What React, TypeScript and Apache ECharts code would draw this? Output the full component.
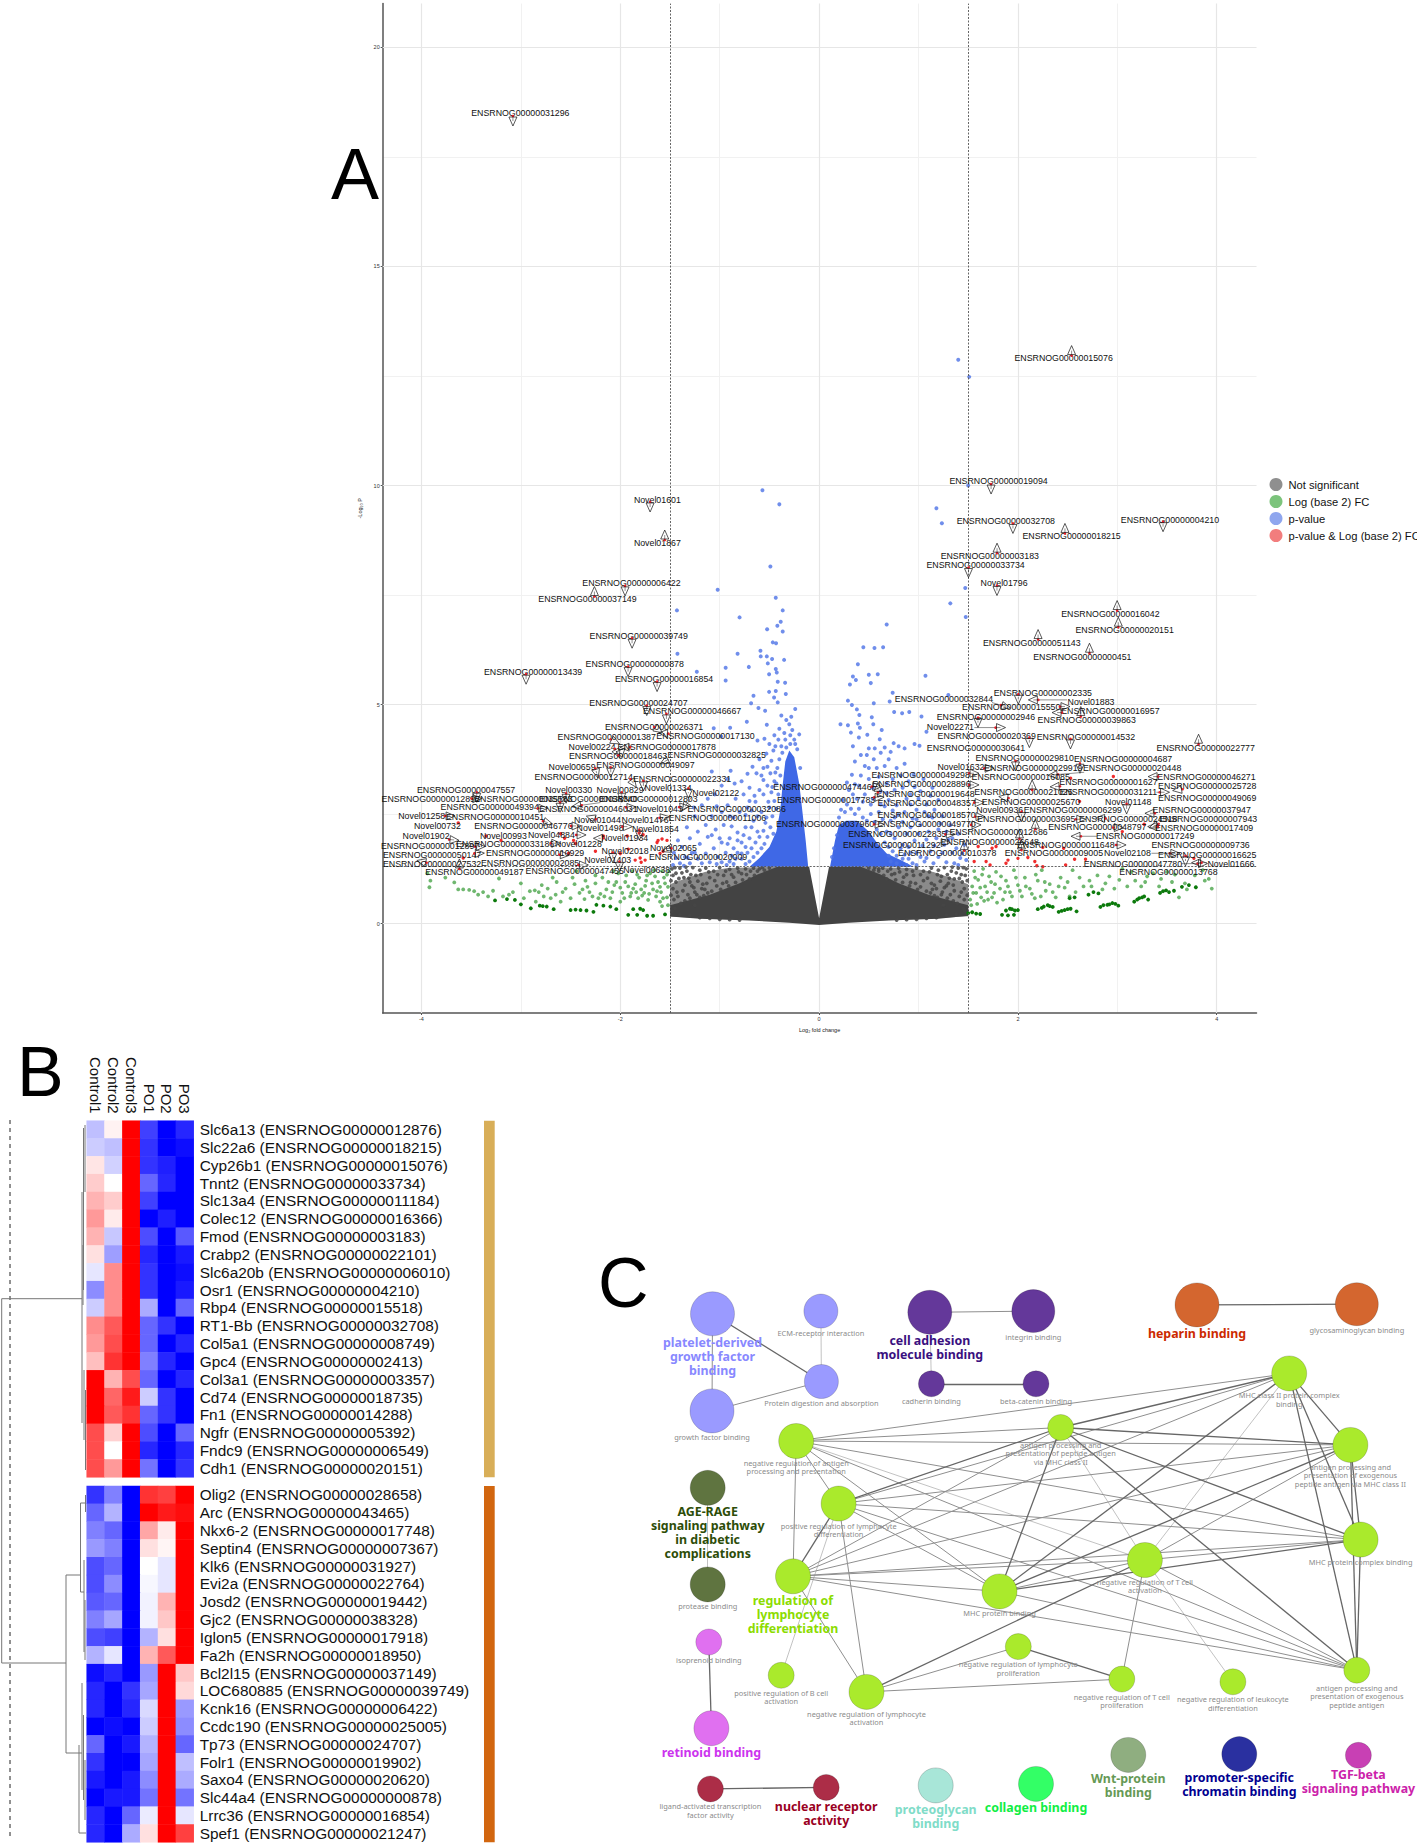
import React, { useEffect, useRef } from "react";
import * as echarts from "echarts";

const FONT = '"Liberation Sans", Arial, sans-serif';
const NET_FONT = '"Noto Sans", sans-serif';

/* ---------- Panel A : volcano ---------- */
const legendNames = ["Not significant", "Log (base 2) FC", "p-value", "p-value & Log (base 2) FC"];
const legendColours = ["#8f8f8f", "#7cc47c", "#8fa6ee", "#f27d7d"];
const xMajor = [-4, -2, 0, 2, 4];
const xMinor = [-3, -1, 1, 3];
const yMajor = [0, 5, 10, 15, 20];
const yMinor = [2.5, 7.5, 12.5, 17.5];
const fcCut = [-1.5, 1.5];
const pCut = [1.3];

const greyOuter = [[-1.5,.16],[-1.5,.9],[-1.36,1.02],[-1.15,1.18],[-.92,1.27],[-.4,1.3],[-.4,.06],[-1.1,.11]];
const greyOuterR = [[1.5,.17],[1.5,.9],[1.36,1.02],[1.15,1.18],[.92,1.27],[.4,1.3],[.4,.06],[1.1,.11]];
const greyInner = [[-.1,1.3],[-.42,1.3],[-.62,1.12],[-.8,.92],[-1.1,.66],[-1.5,.42],[-1.5,.16],[-1.2,.11],[-.7,.07],[-.3,.02],[0,-.03],[.3,.02],[.7,.07],[1.2,.11],[1.5,.18],[1.5,.42],[1.1,.66],[.8,.92],[.62,1.12],[.42,1.3],[.1,1.3],[0,.12]];
const blueLeft = [[-.11,1.3],[-.135,1.9],[-.17,2.6],[-.2,3.2],[-.25,3.8],[-.3,3.95],[-.34,3.7],[-.37,3.1],[-.39,2.6],[-.43,2.1],[-.5,1.75],[-.6,1.5],[-.7,1.3]];
const blueRight = [[.11,1.3],[.16,1.9],[.2,2.25],[.27,2.35],[.38,2.35],[.5,2.1],[.58,1.85],[.68,1.6],[.82,1.45],[.95,1.3]];

const greyPoints = [[-1.48,1.25],[-1.44,1.15],[-1.4,1.27],[-1.36,1.05],[-1.33,1.2],[-1.3,.95],[-1.27,1.28],[-1.24,1.1],[-1.2,1.22],[-1.17,.9],[-1.14,1.27],[-1.1,1.05],[-1.06,1.2],[-1.03,.86],[-1,1.28],[-.96,1.1],[-.93,.95],[-.9,1.24],[-.86,1.06],[-.82,1.27],[-.78,1.14],[-.74,1.25],[-.7,1.02],[-.66,1.27],[-.62,1.2],[-.57,1.28],[-1.47,.8],[-1.42,.62],[-1.37,.75],[-1.3,.58],[-1.25,.72],[-1.2,.6],[-1.15,.78],[-1.48,.28],[-1.4,.2],[-1.3,.18],[-1.2,.14],[-1.1,.12],[-1,.1],[-.9,.09],[-.8,.08],[1.48,1.25],[1.43,1.12],[1.4,1.27],[1.36,1.02],[1.33,1.2],[1.3,.92],[1.26,1.28],[1.23,1.08],[1.2,1.22],[1.16,.88],[1.13,1.27],[1.09,1.04],[1.05,1.2],[1.02,.84],[.98,1.27],[.95,1.1],[.92,.94],[.88,1.24],[.85,1.06],[.8,1.27],[.76,1.14],[.72,1.25],[.68,1.02],[.64,1.27],[.6,1.2],[.56,1.28],[1.46,.8],[1.41,.62],[1.36,.75],[1.29,.58],[1.24,.72],[1.19,.6],[1.14,.78],[1.46,.3],[1.38,.22],[1.28,.2],[1.18,.14],[1.08,.12],[.98,.1],[.88,.09],[.78,.08],
[-1.46,.55],[-1.44,.95],[-1.41,1.03],[-1.39,.46],[-1.35,.88],[-1.32,.66],[-1.29,1.12],[-1.26,.82],[-1.22,.97],[-1.19,1.12],[-1.16,.64],[-1.13,.92],[-1.11,1.18],[-1.08,.74],[-1.05,.98],[-1.02,1.12],[-.99,.78],[-.97,.92],[-.94,1.2],[-.91,.86],[-.88,1.12],[-.84,.94],[-.81,1.18],[-.77,1],[-.73,1.12],[-.69,1.2],[-.65,1.1],[-.6,1.25],[-.55,1.22],[-.5,1.27],[-1.49,.98],[-1.47,1.1],[-1.45,1.28],[-1.43,.72],[-1.38,1.16],[-1.34,1.29],[-1.31,1.04],[-1.28,.86],[-1.23,.66],[-1.18,.8],[-1.12,.7],[-1.49,.65],[-1.45,.35],[-1.35,.52],[-1.25,.42],
[1.46,.55],[1.44,.95],[1.41,1.03],[1.39,.46],[1.35,.88],[1.32,.66],[1.29,1.12],[1.26,.82],[1.22,.97],[1.19,1.12],[1.16,.64],[1.13,.92],[1.11,1.18],[1.08,.74],[1.05,.98],[1.02,1.12],[.99,.78],[.97,.92],[.94,1.2],[.91,.86],[.88,1.12],[.84,.94],[.81,1.18],[.77,1],[.73,1.12],[.69,1.2],[.65,1.1],[.6,1.25],[.55,1.22],[.5,1.27],[1.49,.98],[1.47,1.1],[1.45,1.28],[1.43,.72],[1.38,1.16],[1.34,1.29],[1.31,1.04],[1.28,.86],[1.23,.66],[1.18,.8],[1.12,.7],[1.49,.65],[1.45,.35],[1.35,.52],[1.25,.42]];

const greenPale = [[-3.94,1.15],[-3.91,.98],[-3.92,.83],[-3.76,1.05],[-3.67,.94],[-3.63,.78],[-3.58,.78],[-3.52,.77],[-3.47,.74],[-3.43,.66],[-3.38,.72],[-3.33,.62],[-3.28,.75],[-3.22,1.03],[-3.18,.62],[-3.12,.66],[-3.08,.72],[-3,.92],[-2.97,.58],[-2.91,.74],[-2.86,.76],[-2.82,.72],[-2.77,.62],[-2.73,.8],[-2.7,.58],[-2.65,.66],[-2.6,.5],[-2.55,.8],[-2.5,.58],[-2.46,.9],[-2.41,.7],[-2.36,.56],[-2.33,.84],[-2.28,.62],[-2.25,.92],[-2.2,.68],[-2.18,1.05],[-2.14,.78],[-2.1,.58],[-2.06,.88],[-2.02,1.15],[-1.98,.7],[-1.95,.95],[-1.9,.62],[-1.87,.8],[-1.84,.72],[-1.81,1.05],[-1.78,.64],[-1.75,.86],[-1.72,.54],[-1.7,1.15],[-1.67,.78],[-1.64,.62],[-1.62,.95],[-1.59,.72],[-1.56,1.05],[-1.53,.6],[-1.52,.84],[-1.51,1.2],[-2.85,.5],[-2.68,1.05],[-2.44,1.2],[-2.35,.98],[-2.12,.95],[-2,.5],[-1.88,1.2],[-1.76,.7],[-1.6,.5],[1.52,.55],[1.54,.85],[1.56,1.2],[1.58,.7],[1.6,1],[1.63,.6],[1.65,1.25],[1.67,.85],[1.7,.55],[1.73,.95],[1.76,.7],[1.78,1.18],[1.82,.8],[1.85,.55],[1.88,.98],[1.92,.72],[1.96,1.22],[2,.88],[2.04,.62],[2.07,1.05],[2.12,.8],[2.17,.58],[2.2,.98],[2.24,1.22],[2.28,.75],[2.32,.9],[2.38,.6],[2.43,1.05],[2.47,.82],[2.52,.62],[2.55,1.22],[2.58,.72],[2.66,.85],[2.72,.98],[2.8,1.1],[2.85,.78],[2.92,1.08],[2.97,.8],[3.05,1.25],[3.1,.85],[3.18,.98],[3.24,.85],[3.3,1.08],[3.36,1.15],[3.42,.85],[3.5,1.18],[3.58,1.12],[3.68,.92],[3.78,1.1],[3.86,1.22],[3.92,1.02],[3.95,.8],[3.88,.98],[3.7,.78],[3.62,.6],
[-2.38,.78],[-2.31,.72],[-2.22,.58],[-2.16,.62],[-2.08,.72],[-2.04,.95],[-2,.82],[-1.96,.58],[-1.92,.85],[-1.89,.7],[-1.85,.9],[-1.82,.58],[-1.79,.78],[-1.74,.98],[-1.71,.68],[-1.68,.92],[-1.65,1.08],[-1.63,.74],[-1.6,.84],[-1.57,.58],[-1.55,.92],[-1.53,1.12],[-1.58,1.2],[-1.66,1.22],[-1.73,1.1],[-1.83,1.12],[-1.94,1.1],[-2.07,1.2],[-2.25,1.1],[-2.48,1.05],[-2.58,.72],[-2.64,.95],[-2.79,.88],[-1.52,.42],[-1.58,.4],[1.53,.42],[1.55,.7],[1.57,1.05],[1.59,.45],[1.62,.82],[1.64,1.12],[1.66,.52],[1.69,.72],[1.71,1.08],[1.74,.6],[1.77,.9],[1.79,.48],[1.83,1.08],[1.87,.72],[1.9,.85],[1.94,.62],[1.98,1.05],[2.02,.75],[2.08,.85],[2.14,.68],[2.18,1.12],[2.23,.62],[2.27,.95],[2.35,.72],[2.41,.85],[2.5,.95],[2.62,1.05],[2.74,.85],[2.88,.92],[3.02,1],[3.14,1.18],[3.28,.95],[3.44,1.02],[3.55,.95]];
const greenDark = [[-3.26,.53],[-3.14,.56],[-3.06,.54],[-3,.44],[-2.9,.35],[-2.81,.41],[-2.78,.4],[-2.74,.39],[-2.67,.33],[-2.5,.31],[-2.45,.32],[-2.4,.31],[-2.34,.3],[-2.27,.27],[-2.24,.43],[-2.17,.41],[-2.1,.39],[-2.04,.33],[-1.92,.2],[-1.87,.33],[-1.83,.2],[-1.8,.34],[-1.77,.31],[-1.73,.18],[-1.67,.18],[-1.55,.21],[1.5,.24],[1.54,.26],[1.58,.23],[1.62,.22],[1.84,.2],[1.9,.19],[1.96,.2],[1.88,.3],[1.94,.33],[2,.31],[2.2,.33],[2.26,.39],[2.3,.42],[2.35,.38],[2.41,.27],[2.47,.31],[2.53,.34],[2.59,.28],[2.52,.58],[2.57,.6],[2.71,.66],[2.76,.72],[2.81,.69],[2.83,.38],[2.9,.43],[2.95,.47],[3.01,.41],[3.17,.5],[3.22,.58],[3.27,.62],[3.31,.55],[3.43,.7],[3.49,.76],[3.52,.72],[3.57,.75],[3.65,.84],[3.72,.88],[3.79,.83],[1.92,.34],[1.97,.3],[2.24,.36],[2.32,.4],[2.44,.29],[2.5,.33],[2.86,.42],[2.92,.44],[2.98,.45],[3.2,.55],[3.25,.6],[3.46,.74]];

const bluePoints = [[1.4,12.87],[1.51,12.48],[-.57,9.89],[-.4,9.57],[1.18,9.48],[1.235,9.14],[1.5,10],[1.47,7.66],[1.32,7.31],[1.475,7],[.68,6.83],[.445,6.31],[.557,6.29],[.644,6.31],[.39,5.92],[1.07,5.66],[.34,5.64],[.37,5.56],[.5,5.68],[.59,5.69],[.31,5.46],[.52,5.49],[.74,5.27],[1.3,5.22],[.71,5.07],[.29,5.09],[.33,4.99],[.55,5.03],[.38,4.89],[.755,4.83],[.835,4.8],[.907,4.83],[1.03,4.73],[.405,4.76],[.53,4.71],[.215,4.55],[.29,4.53],[.39,4.57],[.41,4.47],[.545,4.55],[.63,4.42],[.32,4.36],[.485,4.31],[.61,4.21],[.75,4.12],[.96,4.1],[1.01,4.06],[1.08,4.38],[-.49,8.15],[-1.02,7.62],[-.436,7.44],[-.366,7.15],[-1.43,7.15],[-.8,6.99],[-.386,6.89],[-.42,6.8],[-.523,6.72],[-.366,6.67],[-.466,6.42],[-.433,6.4],[-1.425,6.16],[-.82,6.16],[-.59,6.23],[-.587,6.1],[-.526,6.1],[-.473,6.04],[-.516,5.94],[-.352,6.02],[-.707,5.86],[-.94,5.84],[-1.23,5.75],[-.436,5.81],[-.503,5.69],[-.426,5.73],[-.94,5.55],[-.342,5.5],[-.416,5.52],[-.436,5.31],[-.503,5.29],[-.66,5.2],[-.335,5.24],[-.453,5.16],[-.684,5.03],[-.416,5.05],[-.61,4.92],[-.543,4.86],[-.24,4.9],[-.727,4.61],[-.895,4.47],[-1.06,4.46],[-.986,4.27],[-.526,4.54],[-.38,4.75],[-.33,4.65],[-.28,4.72],[-.4,4.45],[-.35,4.35],[-.3,4.55],[-.45,4.3],[-.5,4.1],[-.55,4.22],[-.62,4.18],[-.41,4.2],[-.29,4.3],[-.46,3.95],[-.53,3.88],[-.6,3.75],[-.67,3.58],[-.72,3.42],[-.63,3.43],[-.56,3.55],[-.49,3.43],[-.89,3.49],[-1.08,3.47],[-.98,3.15],[-1.05,2.95],[-.92,3.3],[-.85,3.2],[-.78,3.25],[-.7,3.1],[-.76,2.95],[-.84,2.85],[-.92,2.7],[-.98,2.55],[-1.08,2.45],[-1.14,2.25],[-1.22,2.1],[-1.3,1.95],[-1.38,1.75],[-1.44,1.5],[-1.47,1.34],[-1.42,1.9],[-1.33,2.2],[-1.25,2.45],[-1.18,2.7],[-1.26,2.65],[-1.12,2.85],[-1.03,2.68],[-.9,2.45],[-.8,2.55],[-.72,2.65],[-.64,2.78],[-.56,2.95],[-.58,2.55],[-.66,2.35],[-.74,2.2],[-.82,2.08],[-.9,1.95],[-.98,1.85],[-1.06,1.72],[-1.14,1.6],[-1.22,1.48],[-1.3,1.38],[-1.1,1.4],[-1.02,1.52],[-.94,1.62],[-.86,1.72],[-.78,1.85],[-.7,1.95],[-.62,2.1],[-.54,2.3],[-.5,2.65],[-.48,3],[-.45,3.25],[-1.2,1.82],[-1.12,1.98],[-1.04,2.15],[-.96,2.25],[-.88,2.22],[-1.35,1.52],[-1.4,1.38],[-1.28,1.62],[-.98,1.4],[-.9,1.42],[-.84,1.48],[.33,3.4],[.36,3.7],[.42,3.85],[.5,4],[.46,3.6],[.55,3.75],[.62,3.9],[.7,3.75],[.78,3.55],[.86,3.65],[.95,3.4],[1.05,3.3],[1.14,3.1],[.3,3.05],[.4,3.15],[.5,3.3],[.6,3.35],[.68,3.2],[.76,3.05],[.84,3.1],[.92,2.95],[1,2.85],[1.08,2.72],[1.16,2.6],[1.24,2.45],[1.32,2.25],[1.4,2.05],[1.46,1.8],[1.48,1.45],[1.42,1.5],[1.34,1.62],[1.26,1.8],[1.18,1.95],[1.1,2.1],[1.02,2.25],[.94,2.4],[.86,2.55],[.78,2.7],[.7,2.82],[.62,2.72],[.54,2.85],[.46,2.95],[.72,2.35],[.8,2.2],[.88,2.05],[.96,1.9],[1.04,1.78],[1.12,1.65],[1.2,1.52],[1.28,1.4],[1.36,1.38],[1.15,1.38],[1.02,1.52],[.92,1.62],[.84,1.8],[.76,1.95],[.68,2.1],[1.1,2.45],[.98,2.6],[.88,2.85],[1.2,2.15],[1.3,1.92],[1.38,1.72],
[-.19,3.55],[-.22,3.98],[-.25,4.2],[-.29,4.1],[-.33,4.02],[-.37,3.9],[-.4,3.75],[-.42,3.55],[-.39,3.38],[-.43,3.2],[-.41,2.95],[-.45,2.8],[-.43,2.62],[-.47,2.45],[-.49,2.2],[-.46,2.05],[-.52,1.98],[-.55,1.82],[-.58,1.72],[-.62,1.62],[-.66,1.52],[-.7,1.42],[-.74,1.36],[-.78,1.48],[-.72,1.62],[-.68,1.72],[-.64,1.85],[-.6,1.98],[-.56,2.12],[-.53,2.42],[-.51,2.78],[-.47,3.12],[-.44,3.45],[-.52,3.15],[-.56,3.28],[-.6,3.05],[-.65,2.92],[-.7,2.8],[-.62,2.45],[-.68,2.2],[-.76,2.02],[-.82,1.62],[-.88,1.55],[-.78,1.6],[-.74,1.75],[-.82,1.9],[-.86,1.36],[-.93,1.34],[-1.03,1.36],[-1.18,1.38],[-1.25,1.62],[-.92,1.82],[-1,1.95],[-1.08,2.02],[-.86,2.42],[-.74,2.48],[-.68,2.58],[-1.32,1.5],[-1.46,1.62],[-1.36,1.32],[-.24,4.1],[-.27,4.42],[-.2,4.32],[-.34,4.2],[-.38,4.05],[-.44,4.05],[-.48,3.72],[-.52,3.58],[-.58,3.38],
[.13,1.52],[.15,1.72],[.18,2.02],[.2,2.42],[.22,2.6],[.26,2.55],[.24,2.82],[.28,2.72],[.32,2.62],[.36,2.5],[.4,2.62],[.44,2.42],[.48,2.35],[.52,2.5],[.56,2.32],[.58,2.15],[.62,2.05],[.64,2.38],[.66,1.85],[.7,1.75],[.74,1.65],[.78,1.55],[.82,1.72],[.86,1.58],[.9,1.48],[.94,1.38],[.98,1.34],[1.06,1.42],[.72,2.05],[.76,2.42],[.8,2.48],[.84,2.32],[.6,2.55],[.52,2.72],[.44,2.78],[.38,2.85],[.34,2.95],[.36,3.18],[.28,3.22],[.42,3.38],[.54,3.1],[.62,3.02],[.68,2.98],[.5,3.55],[.58,3.55],[.66,3.6],[.74,3.3],[.82,3.38],[.9,3.25],[.96,3.12],[1.02,3.02],[1.12,2.92],[1.2,2.82],[.34,4.05],[.4,4.25],[.48,3.85],[.56,4],[.66,4.02],[.72,3.92],[.8,4.05],[.86,4],[.92,2.72],[.98,2.38],[1.06,2.55],[1.14,2.42],[1.22,2.28],[1.28,2.1],[1.34,1.95],[1.44,1.6],[1.4,1.34],[1.24,1.62],[1.16,1.78],[1.08,1.92],[1,2.05],[.92,2.2],[.74,2.58],[.66,2.68],[.9,1.75],[.98,1.62],[1.08,1.5],[.84,1.48],[.78,1.38],[.72,1.42],[.7,1.55],[.88,1.34]];
const redPoints = [[-1.62,1.9],[-1.58,1.93],[-1.53,1.9],[-1.63,1.85],[-1.81,2.07],[-1.77,2.03],[-1.92,1.7],[-1.93,2],[-2,1.6],[-1.85,1.45],[-1.8,1.5],[-1.79,1.4],[-1.75,1.45],[-1.6,1.6],[-1.57,1.65],[-2.17,2],[-2.25,1.65],[-2.47,1.9],[-2.45,1.83],[-2.6,2.05],[-2.56,1.95],[-2.52,1.6],[-3.35,2],[-3.2,1.9],[-3.63,2.3],[-3.58,1.5],[1.6,1.76],[1.74,1.72],[1.78,1.76],[1.56,1.42],[1.68,1.42],[1.72,1.34],[1.9,1.45],[1.88,1.38],[2,1.49],[2.1,1.51],[2.17,1.42],[2.19,1.32],[2.25,1.74],[2.25,1.3],[2.46,1.72],[2.48,1.34],[2.57,1.47],[2.68,1.47],[2.96,3.36],[2.62,2.79],[2.53,3.32],[3.05,2.1],[3.27,2.27],[3.77,1.49]];

/* Crop readings: [label, label x, label y, arrow x, arrow y] */
const labelsLeftCrop: any[] = [
["ENSRNOG00000006422",754,70,735,93],["ENSRNOG00000037149",622,118,643,95],["ENSRNOG00000039749",776,227,756,250],["ENSRNOG00000000878",764,313,744,335],["ENSRNOG00000013439",459,336,438,358],["ENSRNOG00000016854",852,358,831,380],["ENSRNOG00000024707",775,428,800,452],["ENSRNOG00000046667",936,454,859,477],["ENSRNOG00000026371",822,501,835,510],["ENSRNOG00000001387",680,532,705,545],["ENSRNOG00000017130",976,529,850,520],["Novel00224",636,561,712,580],["ENSRNOG00000017878",860,560,735,562],["ENSRNOG00000018463",714,587,725,575],["ENSRNOG00000032825",1010,586,853,605],["Novel00659",576,621,650,640],["ENSRNOG00000049097",796,615,692,637],["ENSRNOG00000012714",611,651,760,670],["ENSRNOG00000022331",906,657,790,678],["Novel00330",566,690,558,715],["Novel00829",720,690,725,712],["Novel01334",864,685,925,700],["Novel02122",1007,698,915,740],["ENSRNOG00000047557",258,690,290,712],["ENSRNOG00000012895",152,716,290,716],["ENSRNOG00000035183",430,716],["ENSRNOG00000038340",625,716,540,742],["ENSRNOG00000012803",805,716,590,738],["ENSRNOG00000049394",329,742,488,745],["ENSRNOG00000046031",625,748,753,742],["Novel01043",838,748,912,740],["ENSRNOG00000032086",1070,747],["Novel01258",125,767,210,768],["ENSRNOG00000010451",345,772,503,788],["Novel01044",652,779,633,773],["Novel01476",795,779,853,772],["ENSRNOG00000011006",1012,775],["Novel00732",172,798],["ENSRNOG00000046776",430,799,588,798],["Novel01498",660,805,742,800],["Novel01854",826,806,778,825],["Novel01902",138,827,222,840],["Novel00993",370,827],["Novel04884",514,825,603,825],["Novel01934",734,833,655,835],["ENSRNOG00000012897",150,857,300,860],["ENSRNOG00000033186",375,852,527,850],["Novel01228",595,853],["ENSRNOG00000050147",156,884,298,880],["ENSRNOG00000010929",465,880,553,885],["Novel02018",735,873,698,893],["Novel02065",880,863,860,870],["ENSRNOG00000020009",954,891],["ENSRNOG00000027532",156,912,125,905],["ENSRNOG00000002085",450,908,610,915],["Novel01403",683,900,718,920],["Novel00638",800,930],["ENSRNOG00000047455",584,934],["ENSRNOG00000049187",283,937,238,912],["ENSRNOG00000047446",1327,682,1490,680],["ENSRNOG00000017783",1338,720,1497,712],["ENSRNOG00000037960",1335,793,1497,793]];
const labelsRightCrop: any[] = [
["ENSRNOG00000033734",444,16,426,38],["Novel01796",516,70,498,92],["ENSRNOG00000016042",785,161,802,137],["ENSRNOG00000020151",821,211,805,187],["ENSRNOG00000051143",586,248,602,224],["ENSRNOG00000000451",714,290,732,265],["ENSRNOG00000002335",614,399,552,418],["ENSRNOG00000032844",364,416,520,440],["Novel01883",736,426,590,420],["ENSRNOG00000015550",534,441,670,440],["ENSRNOG00000016957",785,452,650,458],["ENSRNOG00000002946",470,470,450,488],["ENSRNOG00000039863",725,480,710,455],["Novel02271",380,502,507,503],["ENSRNOG00000020369",472,528,580,548],["ENSRNOG00000014532",723,530,684,552],["ENSRNOG00000022777",1026,563,1008,538],["ENSRNOG00000030641",445,565],["ENSRNOG00000029810",568,594,545,618],["ENSRNOG00000004687",817,598,708,625],["Novel01632",407,620,478,625],["ENSRNOG00000029919",590,625],["ENSRNOG00000020448",840,625,640,645],["ENSRNOG00000049298",305,645,440,640],["ENSRNOG00000016085",558,652],["ENSRNOG00000046271",1028,651,893,650],["ENSRNOG00000028896",307,672,440,675],["ENSRNOG00000001627",780,667,645,680],["ENSRNOG00000025728",1030,678,955,690],["ENSRNOG00000019648",317,702,197,682],["ENSRNOG00000021025",565,696,587,675],["ENSRNOG00000031211",780,696,922,697],["ENSRNOG00000049069",1030,715],["ENSRNOG00000048357",320,730,453,728],["ENSRNOG00000025670",584,725,515,712],["Novel01148",830,725,826,747],["Novel00936",505,751,560,770],["ENSRNOG00000006299",690,751],["ENSRNOG00000037947",1016,749,885,760],["ENSRNOG00000018570",320,765,455,770],["ENSRNOG00000003695",572,777,710,778],["ENSRNOG00000024518",830,778,760,775],["ENSRNOG00000007943",1032,778,895,798],["ENSRNOG00000049770",320,793,445,795],["ENSRNOG00000048797",752,802,805,803],["ENSRNOG00000017409",1022,805,892,800],["ENSRNOG00000012686",502,816,595,793],["ENSRNOG00000022835",246,822,380,823],["ENSRNOG00000017249",873,829,698,829],["ENSRNOG00000026648",480,846,555,822],["ENSRNOG00000011292",232,855,367,848],["ENSRNOG00000011648",672,855,812,855],["ENSRNOG00000009736",1013,855],["ENSRNOG00000010378",372,880,415,857],["ENSRNOG00000009005",642,880,560,855],["Novel02108",828,880,948,880],["ENSRNOG00000016625",1030,885,975,903],["ENSRNOG00000047780",842,911,1018,911],["Novel01666",1090,911,1003,908],["ENSRNOG00000013768",932,936]];
const labelsTopData: any[] = [
["ENSRNOG00000031296",-3.005,18.5,-3.08,18.32],["ENSRNOG00000015076",2.46,12.9,2.54,13.08],["ENSRNOG00000019094",1.805,10.1,1.73,9.92],["Novel01601",-1.627,9.67,-1.7,9.51],["Novel01867",-1.627,8.68,-1.553,8.87],["ENSRNOG00000032708",1.878,9.18,1.95,9.02],["ENSRNOG00000018215",2.54,8.84,2.473,9.02],["ENSRNOG00000004210",3.53,9.22,3.46,9.06],["ENSRNOG00000003183",1.717,8.39,1.79,8.57]];

const fromLeft = (r: any[]) => [r[0], (r[1]-1317)/298.2, (1091-r[2])/131.4, r[3]==null?null:(r[3]-1317)/298.2, r[4]==null?null:(1091-r[4])/131.4];
const fromRight = (r: any[]) => [r[0], (r[1]-48)/251.5, (1091-r[2])/131.4, r[3]==null?null:(r[3]-48)/251.5, r[4]==null?null:(1091-r[4])/131.4];
const labelRows = [...labelsLeftCrop.map(fromLeft), ...labelsRightCrop.map(fromRight), ...labelsTopData];

/* ---------- Panel B : heat map ---------- */
const samples = ["Control1","Control2","Control3","PO1","PO2","PO3"];
const genesUp = ["Slc6a13 (ENSRNOG00000012876)","Slc22a6 (ENSRNOG00000018215)","Cyp26b1 (ENSRNOG00000015076)","Tnnt2 (ENSRNOG00000033734)","Slc13a4 (ENSRNOG00000011184)","Colec12 (ENSRNOG00000016366)","Fmod (ENSRNOG00000003183)","Crabp2 (ENSRNOG00000022101)","Slc6a20b (ENSRNOG00000006010)","Osr1 (ENSRNOG00000004210)","Rbp4 (ENSRNOG00000015518)","RT1-Bb (ENSRNOG00000032708)","Col5a1 (ENSRNOG00000008749)","Gpc4 (ENSRNOG00000002413)","Col3a1 (ENSRNOG00000003357)","Cd74 (ENSRNOG00000018735)","Fn1 (ENSRNOG00000014288)","Ngfr (ENSRNOG00000005392)","Fndc9 (ENSRNOG00000006549)","Cdh1 (ENSRNOG00000020151)"];
const genesDown = ["Olig2 (ENSRNOG00000028658)","Arc (ENSRNOG00000043465)","Nkx6-2 (ENSRNOG00000017748)","Septin4 (ENSRNOG00000007367)","Klk6 (ENSRNOG00000031927)","Evi2a (ENSRNOG00000022764)","Josd2 (ENSRNOG00000019442)","Gjc2 (ENSRNOG00000038328)","Iglon5 (ENSRNOG00000017918)","Fa2h (ENSRNOG00000018950)","Bcl2l15 (ENSRNOG00000037149)","LOC680885 (ENSRNOG00000039749)","Kcnk16 (ENSRNOG00000006422)","Ccdc190 (ENSRNOG00000025005)","Tp73 (ENSRNOG00000024707)","Folr1 (ENSRNOG00000019902)","Saxo4 (ENSRNOG00000020620)","Slc44a4 (ENSRNOG00000000878)","Lrrc36 (ENSRNOG00000016854)","Spef1 (ENSRNOG00000021247)"];
const valuesUp = [[-.25,.05,1,-.75,-1,-.85],[-.2,-.25,1,-.8,-1,-.95],[.1,-.18,1,-.8,-.88,-1],[.2,0,1,-.6,-.85,-1],[.3,.2,1,-.75,-1,-1],[.4,.08,1,-1,-.88,-1],[.3,-.22,1,-.7,-1,-.65],[.12,-.38,1,-.85,-1,-.9],[-.1,.45,1,-.8,-1,-.95],[-.45,.45,1,-.8,-1,-.9],[-.2,.45,1,-.33,-1,-.6],[.45,.65,1,-.6,-.8,-1],[.4,.7,1,-.6,-1,-.85],[.25,.8,1,-.5,-.85,-1],[1,.3,.7,-.6,-1,-.85],[1,.6,.9,-.2,-.8,-1],[1,.65,.8,-.6,-.8,-1],[.7,.18,1,-.7,-1,-.6],[.7,0,1,-.85,-1,-.85],[.7,.4,1,-.55,-1,-.8]];
const valuesDown = [[-.8,-.5,-1,.8,.75,1],[-.6,-.3,-1,1,.9,.95],[-.5,-.6,-1,.35,.08,1],[-.4,-.5,-1,.12,.04,1],[-.7,-.6,-1,0,-.1,1],[-.7,-.45,-1,-.03,-.1,1],[-.65,-.6,-1,-.05,.3,1],[-.5,-.35,-1,-.05,.22,1],[-.7,-.75,-1,-.3,.12,1],[-.3,-.1,-1,.3,.65,1],[-.95,-.85,-1,-.4,1,.22],[-.85,-1,-.8,-.35,1,.15],[-.85,-1,-.85,-.15,1,-.4],[-1,-.95,-1,-.2,1,-.45],[-.6,-1,-.9,-.3,1,-.6],[-.8,-1,-1,-.35,1,-.25],[-.9,-1,-.9,-.45,1,-.33],[-1,-.9,-.9,-.55,1,-.55],[-.85,-1,-.6,-.08,1,-.1],[-.85,-1,-.33,.12,1,.75]];
const toCells = (m: number[][]) => m.flatMap((row, r) => row.map((v, c) => [c, r, v]));

/* ---------- Panel C : enrichment network ---------- */
const nodeNames = ["platelet-derived\ngrowth factor\nbinding","ECM-receptor interaction","Protein digestion and absorption","growth factor binding","cell adhesion\nmolecule binding","integrin binding","cadherin binding","beta-catenin binding","heparin binding","glycosaminoglycan binding","MHC class II protein complex\nbinding","antigen processing and\npresentation of peptide antigen\nvia MHC class II","negative regulation of antigen\nprocessing and presentation","antigen processing and\npresentation of exogenous\npeptide antigen via MHC class II","positive regulation of lymphocyte\ndifferentiation","MHC protein complex binding","negative regulation of T cell\nactivation","regulation of\nlymphocyte\ndifferentiation","MHC protein binding","negative regulation of lymphocyte\nproliferation","positive regulation of B cell\nactivation","negative regulation of lymphocyte\nactivation","negative regulation of T cell\nproliferation","negative regulation of leukocyte\ndifferentiation","antigen processing and\npresentation of exogenous\npeptide antigen","AGE-RAGE\nsignaling pathway\nin diabetic\ncomplications","protease binding","isoprenoid binding","retinoid binding","Wnt-protein\nbinding","promoter-specific\nchromatin binding","TGF-beta\nsignaling pathway","proteoglycan\nbinding","collagen binding","ligand-activated transcription\nfactor activity","nuclear receptor\nactivity"];
const nodeX = [132.5,240.9,241.4,132,349.8,453.3,351.4,456,617,776.8,709.2,480.7,216.2,770.4,258.6,780.6,564.9,213,419.5,438.3,201.2,286.5,541.8,652.9,776.8,127.7,127.7,128.8,131.4,548.3,659.3,778.4,355.7,456,130.4,246.2];
const nodeY = [73.8,71.1,141.5,170.9,72.3,71.1,143.8,143.8,64.9,64.2,133.4,187.5,201,204.9,263.6,299.6,320,336.3,351.4,406.6,435.3,451.9,439.1,441.8,430.2,247.8,344.4,402,488.2,514.9,514.1,515.3,545.4,543.9,548.9,547.4];
const nodeDiameter = [44,34,34,44,44,43,26,26,44,43,35,26,35,35,35,35,35,35,35,26,26,35,26,26,26,35,35,26,35,35,35,26,35,35,26,26];
const nodeFill = ["#9a9aff","#9a9aff","#9a9aff","#9a9aff","#64389a","#64389a","#64389a","#64389a","#d4662f","#d4662f","#aaea2c","#aaea2c","#aaea2c","#aaea2c","#aaea2c","#aaea2c","#aaea2c","#aaea2c","#aaea2c","#aaea2c","#aaea2c","#aaea2c","#aaea2c","#aaea2c","#aaea2c","#5f7440","#5f7440","#e070f0","#e070f0","#8fae80","#2a30a0","#c840b4","#a8e6d8","#33ff66","#ac2d47","#ac2d47"];
const nodeBigLabelColour: (string|null)[] = ["#8888ff",null,null,null,"#3a1080",null,null,null,"#cc2a00",null,null,null,null,null,null,null,null,"#8cdc00",null,null,null,null,null,null,null,"#2d4d08",null,null,"#cc33ee","#669955","#000090","#cc22aa","#80dcc8","#11ee44",null,"#9a0022"];
const edgesDark = [[0,2],[10,11],[10,24],[10,13],[10,15],[11,13],[11,15],[11,24],[14,11],[17,14],[18,10],[18,11],[18,15],[18,13],[21,16],[19,22],[13,15],[13,24],[15,24],[27,28],[34,35],[6,7],[8,9]];
const edgesMid = [[0,3],[2,3],[4,5],[12,10],[12,11],[12,13],[12,15],[12,24],[12,18],[12,17],[12,14],[14,10],[14,13],[14,15],[14,24],[14,18],[17,10],[17,11],[17,13],[17,15],[17,16],[17,18],[17,24],[16,15],[16,13],[16,24],[16,22],[21,22],[21,17],[21,14],[21,19],[18,16],[18,24]];
const edgesLight = [[1,2],[4,6],[16,10],[16,11],[16,23],[20,14],[25,26],[12,16]];

/* ---------- Decorations ---------- */
const dendroSegments = [[1.7,1298.7,1.7,1663],[1.7,1298.7,82,1298.7],[1.7,1663,66,1663],[82,1192,82,1423],[83.5,1128,83.5,1290],[85,1125,85,1192],[83,1245,83,1305],[84,1370,84,1440],[85.5,1390,85.5,1470],[66,1575,66,1753],[66,1575,80.5,1575],[80.5,1503,80.5,1592],[80.5,1503,86,1503],[80.5,1592,84,1592],[84,1560,84,1652],[85.5,1495,85.5,1512],[85,1600,85,1660],[66,1753,82,1753],[82,1683,82,1790],[79,1745,79,1833],[79,1833,86,1833],[83.5,1715,83.5,1800],[85,1760,85,1820]];

const polygonSeries = (pts: number[][], color: string, z: number) => ({
  type: "custom", xAxisIndex: 0, yAxisIndex: 0, silent: true, z, data: pts, encode: { x: 0, y: 1 },
  renderItem: (params: any, api: any) => params.dataIndex !== 0 ? null : ({
    type: "polygon", shape: { points: pts.map((p) => api.coord(p)) }, style: { fill: color },
  }),
});
const scatter = (name: string, data: number[][], color: string, size: number, opacity: number, z: number) => ({
  name, type: "scatter", xAxisIndex: 0, yAxisIndex: 0, data, symbolSize: size, z, silent: true,
  itemStyle: { color, opacity },
});

const renderLabel = (params: any, api: any) => {
  const row = labelRows[params.dataIndex];
  const [cx, cy] = api.coord([row[1], row[2]]);
  const children: any[] = [{ type: "text", style: { text: row[0], x: cx, y: cy, fontSize: 8.8, fontFamily: FONT, fill: "#111", align: "center", verticalAlign: "middle" } }];
  if (row[3] != null) {
    const [tx, ty] = api.coord([row[3], row[4]]);
    const hw = String(row[0]).startsWith("Novel") ? 24 : 48;
    const sx = Math.min(Math.max(tx, cx - hw), cx + hw);
    const sy = Math.min(Math.max(ty, cy - 4), cy + 4);
    let dx = tx - sx, dy = ty - sy, len = Math.hypot(dx, dy);
    if (len < 1) { dx = tx - cx; dy = ty - cy; len = Math.hypot(dx, dy) || 1; }
    const ux = dx / len, uy = dy / len;
    children.push({ type: "line", shape: { x1: sx, y1: sy, x2: tx, y2: ty }, style: { stroke: "#444", lineWidth: 0.6 } });
    children.push({ type: "circle", shape: { cx: tx - ux * 5, cy: ty - uy * 5, r: 1.3 }, style: { fill: "#e8202a" } });
    children.push({ type: "polygon", shape: { points: [[tx - ux * 4 - uy * 4, ty - uy * 4 + ux * 4], [tx - ux * 4 + uy * 4, ty - uy * 4 - ux * 4], [tx + ux * 5, ty + uy * 5]] }, style: { fill: "rgba(255,255,255,0)", stroke: "#111", lineWidth: 0.7 } });
  }
  return { type: "group", children };
};

const catAxisBase = { type: "category", axisLine: { show: false }, axisTick: { show: false }, splitLine: { show: false } };
const heatAxis = (data: string[], gridIndex: number) => ({
  ...catAxisBase, gridIndex, data, inverse: true, position: "right",
  axisLabel: { interval: 0, margin: 6, fontSize: 15.4, fontFamily: FONT, color: "#111" },
});
const edgeLinks = (list: number[][], color: string, width: number) => list.map(([source, target]) => ({ source, target, lineStyle: { color, width, opacity: 1 } }));

const buildOption = () => {
  const vLine = (xAxis: number) => ({ xAxis });
  const hLine = (yAxis: number) => ({ yAxis });
  return {
    animation: false,
    backgroundColor: "#fff",
    legend: {
      left: 1269.5, top: 478, padding: 0, orient: "vertical", selectedMode: false, itemWidth: 15, itemHeight: 13, itemGap: 4, icon: "circle",
      textStyle: { fontSize: 11.2, fontFamily: FONT, color: "#111" },
      data: legendNames.map((name, i) => ({ name, itemStyle: { color: legendColours[i], opacity: 1 } })),
    },
    visualMap: { show: false, min: -1, max: 1, seriesIndex: [0, 1], inRange: { color: ["#0000ff", "#ffffff", "#ff0000"] } },
    grid: [
      { left: 382.7, top: 3.6, width: 873.8, height: 1009.4 },
      { left: 86.7, top: 1120.7, width: 107, height: 356.6 },
      { left: 86.7, top: 1486, width: 107, height: 356.3 },
      { left: 580, top: 1240, width: 837, height: 606 },
    ],
    xAxis: [
      { type: "value", gridIndex: 0, min: -4.39, max: 4.4, name: "Log₂ fold change", nameLocation: "middle", nameGap: 11,
        nameTextStyle: { fontSize: 5.5, fontFamily: FONT, color: "#222" },
        axisLine: { onZero: false, lineStyle: { color: "#555", width: 1.5 } },
        axisTick: { length: 2, customValues: xMajor, lineStyle: { color: "#555" } },
        axisLabel: { fontSize: 5.5, fontFamily: FONT, color: "#333", margin: 3, customValues: xMajor },
        splitLine: { show: false } },
      { ...catAxisBase, gridIndex: 1, data: samples, position: "top",
        axisLabel: { interval: 0, rotate: 90, margin: 7, fontSize: 15, fontFamily: FONT, color: "#111" } },
      { ...catAxisBase, gridIndex: 2, data: samples, position: "top", axisLabel: { show: false } },
      { type: "value", gridIndex: 3, min: 0, max: 837, show: false },
    ],
    yAxis: [
      { type: "value", gridIndex: 0, min: -2.04, max: 21, name: "-Log₁₀ P", nameLocation: "middle", nameGap: 6,
        nameTextStyle: { fontSize: 5.5, fontFamily: FONT, color: "#222" },
        axisLine: { onZero: false, show: true, lineStyle: { color: "#555", width: 1.5 } },
        axisTick: { show: true, length: 2, customValues: yMajor, lineStyle: { color: "#555" } },
        axisLabel: { fontSize: 5.5, fontFamily: FONT, color: "#333", margin: 3, customValues: yMajor },
        splitLine: { show: false } },
      heatAxis(genesUp, 1),
      heatAxis(genesDown, 2),
      { type: "value", gridIndex: 3, min: 0, max: 606, inverse: true, show: false },
    ],
    series: [
      { type: "heatmap", xAxisIndex: 1, yAxisIndex: 1, data: toCells(valuesUp), silent: true, z: 2 },
      { type: "heatmap", xAxisIndex: 2, yAxisIndex: 2, data: toCells(valuesDown), silent: true, z: 2 },
      { type: "scatter", xAxisIndex: 0, yAxisIndex: 0, data: [], z: 0, silent: true,
        markLine: { z: 0, silent: true, symbol: "none", label: { show: false }, animation: false, lineStyle: { color: "#f1f1f1", width: 1, type: "solid" }, data: [...xMinor.map(vLine), ...yMinor.map(hLine)] } },
      { type: "scatter", xAxisIndex: 0, yAxisIndex: 0, data: [], z: 1, silent: true,
        markLine: { z: 1, silent: true, symbol: "none", label: { show: false }, animation: false, lineStyle: { color: "#e6e6e6", width: 1.2, type: "solid" }, data: [...xMajor.map(vLine), ...yMajor.map(hLine)] } },
      polygonSeries(greyOuter, "#8a8a8a", 2),
      polygonSeries(greyOuterR, "#8a8a8a", 2),
      polygonSeries(greyInner, "#434343", 3),
      polygonSeries(blueLeft, "#3f68e6", 4),
      polygonSeries(blueRight, "#3f68e6", 4),
      scatter(legendNames[0], greyPoints, "#454545", 3.8, 0.85, 3),
      scatter(legendNames[1], greenPale, "#3f9f3f", 3.8, 0.75, 3),
      { ...scatter("dark green", greenDark, "#0c7a0c", 3.8, 1, 3) },
      scatter(legendNames[2], bluePoints, "#4c72e6", 4, 0.8, 4),
      scatter(legendNames[3], redPoints, "#ee2222", 3.4, 0.95, 5),
      { type: "scatter", xAxisIndex: 0, yAxisIndex: 0, data: [], z: 6, silent: true,
        markLine: { z: 6, silent: true, symbol: "none", label: { show: false }, animation: false, lineStyle: { color: "#555", width: 0.9, type: [2, 1.5] }, data: [...fcCut.map(vLine), ...pCut.map(hLine)] } },
      { type: "custom", xAxisIndex: 0, yAxisIndex: 0, silent: true, z: 7, clip: false,
        data: labelRows.map((r) => [r[1], r[2]]), encode: { x: 0, y: 1 }, renderItem: renderLabel },
      { type: "graph", coordinateSystem: "cartesian2d", xAxisIndex: 3, yAxisIndex: 3, silent: true, z: 4, roam: false, edgeSymbol: ["none", "none"],
        data: nodeNames.map((name, i) => {
          const big = nodeBigLabelColour[i];
          return {
            name, value: [nodeX[i], nodeY[i]], symbol: "circle", symbolSize: nodeDiameter[i],
            itemStyle: { color: nodeFill[i], borderColor: "rgba(0,0,0,0.25)", borderWidth: 0.7 },
            label: { show: true, position: "bottom", distance: big ? -1 : 0, align: "center", formatter: "{b}", fontFamily: NET_FONT,
              fontSize: big ? 12.4 : 7.4, fontWeight: big ? 700 : 400, lineHeight: big ? 14 : 8.4, color: big || "#8b8b8b" },
          };
        }),
        links: [...edgeLinks(edgesLight, "#b2b2b2", 0.8), ...edgeLinks(edgesMid, "#8f8f8f", 1), ...edgeLinks(edgesDark, "#666", 1.3)],
      },
    ],
    graphic: [
      { type: "text", x: 331, y: 138, style: { text: "A", fontSize: 72, fontFamily: FONT, fill: "#000" } },
      { type: "text", x: 17, y: 1037, style: { text: "B", fontSize: 70, fontFamily: FONT, fill: "#000" } },
      { type: "text", x: 598, y: 1248, style: { text: "C", fontSize: 70, fontFamily: FONT, fill: "#000" } },
      { type: "rect", shape: { x: 484, y: 1120.7, width: 10.7, height: 356.6 }, style: { fill: "#d8ae58" } },
      { type: "rect", shape: { x: 484, y: 1486, width: 10.7, height: 356.3 }, style: { fill: "#d2660f" } },
      { type: "line", shape: { x1: 10, y1: 1120, x2: 10, y2: 1838 }, style: { stroke: "#222", lineWidth: 1, lineDash: [4, 4] } },
      ...dendroSegments.map(([x1, y1, x2, y2]) => ({ type: "line", shape: { x1, y1, x2, y2 }, style: { stroke: "#777", lineWidth: 1 } })),
    ],
  };
};

export default function App() {
  const ref = useRef<HTMLDivElement | null>(null);
  useEffect(() => {
    const chart = echarts.init(ref.current!, undefined, { renderer: "svg" });
    chart.setOption(buildOption() as any);
    return () => chart.dispose();
  }, []);
  return <div ref={ref} style={{ position: "absolute", left: 0, top: 0, width: 1417, height: 1846 }} />;
}
